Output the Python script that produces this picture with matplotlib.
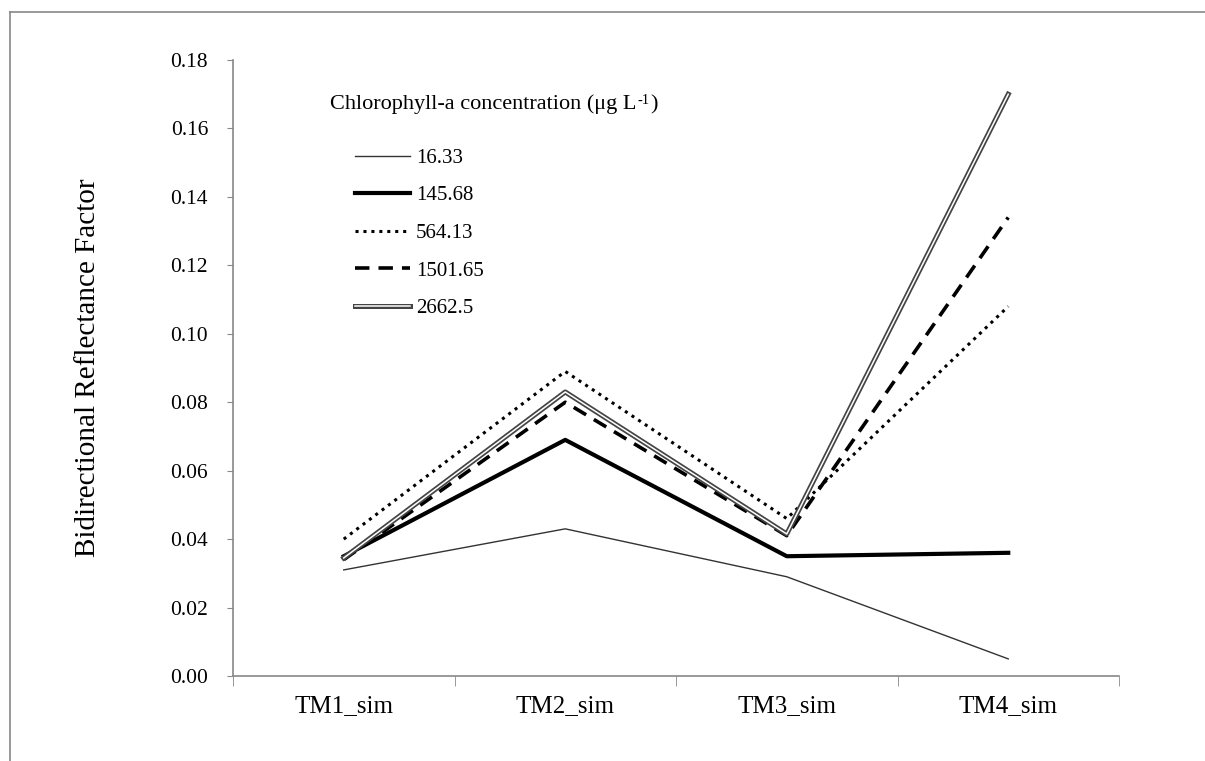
import matplotlib
matplotlib.use("Agg")
import matplotlib.pyplot as plt
import matplotlib.patheffects as pe
from matplotlib.lines import Line2D

plt.rcParams['font.family'] = ['Liberation Serif', 'DejaVu Serif']

# данные
bands = ["TM1_sim", "TM2_sim", "TM3_sim", "TM4_sim"]
chl_labels = ["16.33", "145.68", "564.13", "1501.65", "2662.5"]
brf_16 = [0.031, 0.043, 0.029, 0.005]
brf_145 = [0.035, 0.069, 0.035, 0.036]
brf_564 = [0.040, 0.089, 0.046, 0.108]
brf_1501 = [0.034, 0.080, 0.041, 0.134]
brf_2662 = [0.0345, 0.083, 0.0415, 0.170]

x = [i + 0.5 for i in range(len(bands))]

fig = plt.figure(figsize=(12.05, 7.61), dpi=100)
ax = fig.add_axes([233 / 1205, 1 - 676 / 761, (1119 - 233) / 1205, (676 - 60) / 761])

ax.plot(x, brf_16, color='#333333', lw=1.0, label=chl_labels[0])
ax.plot(x, brf_145, color='black', lw=3.0, label=chl_labels[1])
ax.plot(x, brf_564, color='black', lw=2.2, linestyle=(0, (1, 1.6)), label=chl_labels[2])
ax.plot(x, brf_1501, color='black', lw=2.6, linestyle=(0, (4, 2.5)), label=chl_labels[3])
ax.plot(x, brf_2662, color='white', lw=1.1, label=chl_labels[4],
        path_effects=[pe.Stroke(linewidth=3.6, foreground='#444444'), pe.Normal()])

ax.set_xlim(0, 4)
ax.set_ylim(0, 0.18)
ax.set_xticks(x)
ax.set_xticklabels(bands, fontsize=18)
ax.set_xticks(range(5), minor=True)
ax.tick_params(axis='x', which='major', length=0, pad=14)
ax.tick_params(axis='x', which='minor', length=7, color='#888888', direction='out')
ax.set_yticks([i * 0.02 for i in range(10)])
ax.set_yticklabels([f"{i * 0.02:.2f}" for i in range(10)], fontsize=15.5)
ax.tick_params(axis='y', length=4, color='#888888', direction='out', pad=14)

for s in ['top', 'right']:
    ax.spines[s].set_visible(False)
for s in ['left', 'bottom']:
    ax.spines[s].set_color('#888888')
    ax.spines[s].set_linewidth(1.2)

ax.set_ylabel("Bidirectional Reflectance Factor", fontsize=21, labelpad=50)

# легенда: заголовок с надстрочным "-1"
t1 = fig.text(330 / 1205, 1 - 109 / 761, "Chlorophyll-a concentration (μg L",
              fontsize=16, va='baseline', ha='left')
t2 = ax.annotate("-1", xy=(1, 0), xycoords=t1, xytext=(0.5, 7),
                 textcoords='offset points', fontsize=10.5, va='baseline', ha='left')
ax.annotate(")", xy=(1, 0), xycoords=(t2, t1), xytext=(0.5, 0),
            textcoords='offset points', fontsize=16, va='bottom', ha='left')
ax.legend(loc='upper left', bbox_to_anchor=(345 / 1205, 1 - 138 / 761),
          bbox_transform=fig.transFigure, frameon=False, fontsize=15,
          handlelength=2.6, handletextpad=0.3, labelspacing=0.86, borderpad=0)

# рамка
fig.add_artist(Line2D([10 / 1205, 1], [1 - 12 / 761, 1 - 12 / 761], color='#888888', lw=1.2))
fig.add_artist(Line2D([10 / 1205, 10 / 1205], [0, 1 - 12 / 761], color='#888888', lw=1.2))

fig.savefig("out.png", dpi=100)
